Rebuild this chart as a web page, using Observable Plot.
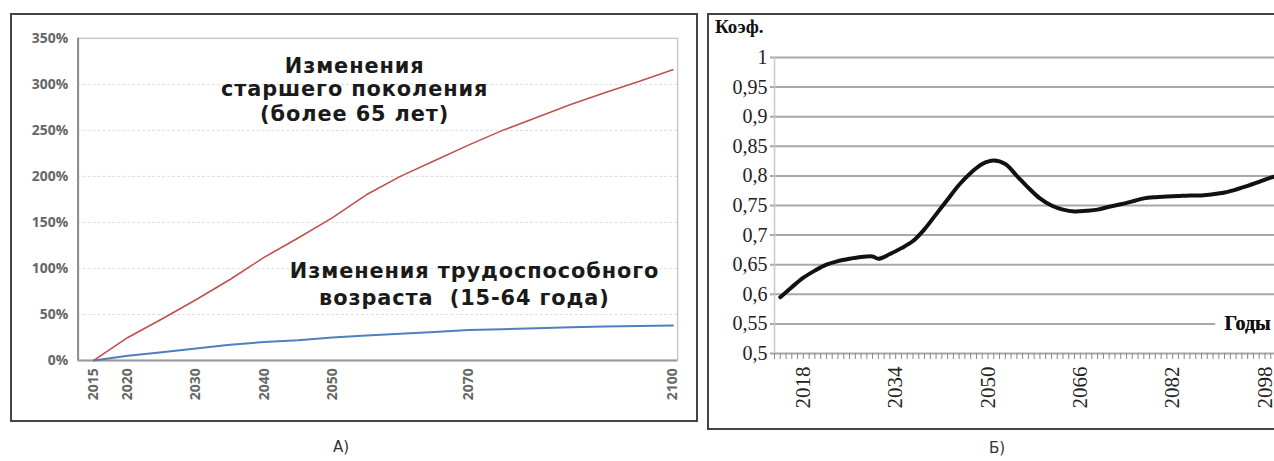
<!DOCTYPE html>
<html>
<head>
<meta charset="utf-8">
<script src="https://cdn.jsdelivr.net/npm/d3@7"></script>
<script src="https://cdn.jsdelivr.net/npm/@observablehq/plot@0.6"></script>
<style>
  html, body { margin: 0; padding: 0; background: #fff; width: 1274px; height: 461px; overflow: hidden; }
  .panel { position: absolute; box-sizing: border-box; }
  #pa { left: 10px; top: 13px; width: 688px; height: 409px; border: 2px solid #444; }
  #pb { left: 707px; top: 13px; width: 580px; height: 417px; border: 2px solid #444; }
  #pa svg { position: absolute; left: -2px; top: -2px; }
  #pb svg { position: absolute; left: -2px; top: -2px; }
  .cap { position: absolute; font-family: "DejaVu Sans", sans-serif; font-size: 15px; color: #333; }
  #koef { position: absolute; left: 715px; top: 16px; font-family: "Liberation Serif", serif; font-weight: bold; font-size: 19px; color: #111; }
</style>
</head>
<body>
<div id="pa" class="panel"></div>
<div id="pb" class="panel"></div>
<div id="koef">Коэф.</div>
<div class="cap" style="left:333px; top:438px;">А)</div>
<div class="cap" style="left:989px; top:439px;">Б)</div>
<script>
// ---- Panel A data (percent change vs 2015) ----
const yearsA = [2015, 2020, 2025, 2030, 2035, 2040, 2045, 2050, 2055, 2060, 2065, 2070, 2075, 2080, 2085, 2090, 2095, 2100];
const olderA = [0, 25, 45, 66, 88, 112, 133, 155, 180, 200, 217, 234, 250, 264, 278, 291, 303, 316];
const workingA = [0, 5, 9, 13, 17, 20, 22, 25, 27, 29, 31, 33, 34, 35, 36, 37, 37.5, 38];
const yTicksA = [0, 50, 100, 150, 200, 250, 300, 350];
const xTicksA = [2015, 2020, 2030, 2040, 2050, 2070, 2100];

// ---- Panel B data (coefficient) ----
const yearsB = [2014, 2016, 2018, 2020, 2022, 2024, 2026, 2028, 2030, 2031, 2033, 2035, 2037, 2039, 2041, 2043, 2045, 2047, 2049, 2051, 2053, 2055, 2057, 2059, 2061, 2063, 2065, 2067, 2069, 2071, 2073, 2075, 2077, 2079, 2081, 2083, 2085, 2087, 2089, 2091, 2093, 2095, 2097, 2099, 2100];
const coefB = [0.595, 0.612, 0.628, 0.64, 0.65, 0.656, 0.66, 0.663, 0.664, 0.66, 0.668, 0.678, 0.69, 0.71, 0.735, 0.76, 0.785, 0.805, 0.82, 0.826, 0.82, 0.80, 0.78, 0.762, 0.75, 0.743, 0.74, 0.741, 0.743, 0.748, 0.752, 0.757, 0.762, 0.764, 0.765, 0.766, 0.767, 0.767, 0.769, 0.772, 0.777, 0.783, 0.79, 0.797, 0.80];
const yTicksB = [0.5, 0.55, 0.6, 0.65, 0.7, 0.75, 0.8, 0.85, 0.9, 0.95, 1];
const xTicksB = [2018, 2034, 2050, 2066, 2082, 2098];
const minorTicksB = d3.range(2013, 2101);

const older = yearsA.map((y, i) => ({year: y, v: olderA[i]}));
const working = yearsA.map((y, i) => ({year: y, v: workingA[i]}));
const coef = yearsB.map((y, i) => ({year: y, v: coefB[i]}));

const annFont = "'DejaVu Sans', sans-serif";
const ann = {text: d => d, fontFamily: annFont, fontWeight: "bold", fontSize: 21, fill: "#1a1a1a"};

const plotA = Plot.plot({
  width: 688, height: 409,
  marginLeft: 68, marginRight: 17, marginTop: 25, marginBottom: 60,
  x: {domain: [2012.7, 2100.7]},
  y: {domain: [0, 350]},
  style: {background: "transparent", fontFamily: "'Open Sans', sans-serif"},
  marks: [
    Plot.gridY(yTicksA.slice(1, -1), {stroke: "#ddd", strokeOpacity: 1, strokeDasharray: "3,2"}),
    Plot.frame({stroke: "#c8c8c8", strokeWidth: 1.5}),
    Plot.ruleX([2012.7], {stroke: "#8a8a8a", strokeWidth: 2}),
    Plot.ruleY([0], {stroke: "#9a9a9a", strokeWidth: 2}),
    Plot.axisY(yTicksA, {tickSize: 0, tickPadding: 10, tickFormat: d => d + "%", fontSize: 14, fontWeight: "bold", fill: "#666", label: null}),
    Plot.axisX(xTicksA, {tickSize: 0, tickRotate: -90, tickPadding: 8, tickFormat: d => String(d), fontSize: 14, fontWeight: "bold", fill: "#666", label: null}),
    Plot.line(working, {x: "year", y: "v", stroke: "#4f7fbf", strokeWidth: 2}),
    Plot.line(older, {x: "year", y: "v", stroke: "#c0504d", strokeWidth: 1.6}),
    Plot.text(["Изменения"], {...ann, x: 2053.3, y: 320}),
    Plot.text(["старшего поколения"], {...ann, x: 2053.3, y: 295}),
    Plot.text(["(более 65 лет)"], {...ann, x: 2053.3, y: 268}),
    Plot.text(["Изменения трудоспособного"], {...ann, x: 2070.9, y: 97}),
    Plot.text(["возраста  (15-64 года)"], {...ann, x: 2069.4, y: 67})
  ]
});
d3.select(plotA).selectAll("g[aria-label=text] text").style("letter-spacing", "0.9px");
document.getElementById("pa").appendChild(plotA);

const plotB = Plot.plot({
  width: 569, height: 417,
  marginLeft: 67, marginRight: 0, marginTop: 44, marginBottom: 77,
  x: {domain: [2013, 2100]},
  y: {domain: [0.5, 1]},
  style: {background: "transparent", fontFamily: "'Liberation Serif', serif"},
  marks: [
    Plot.ruleY(yTicksB, {x1: 2012.3, x2: 2100, stroke: "#a8a8a8", strokeWidth: 2}),
    Plot.ruleX([2013], {stroke: "#c8c8c8", strokeWidth: 1.5}),
    Plot.axisX(minorTicksB, {tickSize: 6, tickFormat: () => "", stroke: "#888", label: null}),
    Plot.axisY(yTicksB, {tickSize: 0, tickPadding: 7, tickFormat: d => d === 1 ? "1" : String(d).replace(".", ","), fontSize: 20, fill: "#222", label: null}),
    Plot.axisX(xTicksB, {tickSize: 0, tickRotate: -90, tickPadding: 13, tickFormat: d => String(d), fontSize: 21, fill: "#222", label: null}),
    Plot.text(["Годы"], {x: 2091, y: 0.55, text: d => d, textAnchor: "start", fontFamily: "'Liberation Serif', serif", fontWeight: "bold", fontSize: 20, fill: "#111", stroke: "white", strokeWidth: 22}),
    Plot.text(["Годы"], {x: 2091, y: 0.55, text: d => d, textAnchor: "start", fontFamily: "'Liberation Serif', serif", fontWeight: "bold", fontSize: 20, fill: "#111"}),
    Plot.line(coef, {x: "year", y: "v", stroke: "#111", strokeWidth: 4, curve: "catmull-rom"})
  ]
});
document.getElementById("pb").appendChild(plotB);
</script>
</body>
</html>
